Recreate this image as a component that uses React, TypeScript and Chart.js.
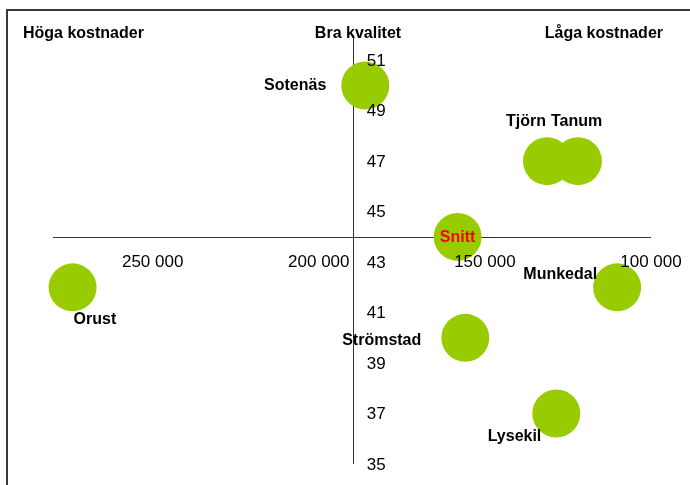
import React, { useEffect, useRef } from "react";
import { Chart, registerables } from "chart.js";

Chart.register(...registerables);

// ---- Data ----
const names = ["Sotenäs", "Tjörn", "Tanum", "Snitt", "Orust", "Munkedal", "Strömstad", "Lysekil"];
const costs = [186000, 131300, 122000, 158200, 274100, 110200, 155900, 128500];
const quality = [50, 47, 47, 44, 42, 42, 40, 37];
const xTicks = [250000, 200000, 150000, 100000];
const yTicks = [35, 37, 39, 41, 43, 45, 47, 49, 51];
const xRange = [100000, 280000];
const yRange = [35, 52];
const crossX = 189600;
const crossY = 44;
const headerLabels = ["Höga kostnader", "Bra kvalitet", "Låga kostnader"];

// ---- Styles ----
const FONT = "'Liberation Sans', Arial, sans-serif";
const GREEN = "#99CC00";
const labelPlacement: Record<string, { dx: number; dy: number; align: CanvasTextAlign; color?: string }> = {
  "Sotenäs": { dx: -39, dy: 0, align: "right" },
  "Tjörn": { dx: -1, dy: -40, align: "right" },
  "Tanum": { dx: -27, dy: -40, align: "left" },
  "Snitt": { dx: 0, dy: 1, align: "center", color: "#FF0000" },
  "Orust": { dx: 1, dy: 32, align: "left" },
  "Munkedal": { dx: -20, dy: -13, align: "right" },
  "Strömstad": { dx: -44, dy: 3, align: "right" },
  "Lysekil": { dx: -15, dy: 23, align: "right" },
};

const fmt = (v: number) => String(v).replace(/\B(?=(\d{3})+(?!\d))/g, " ");

const overlay = {
  id: "overlay",
  beforeDatasetsDraw(chart: any) {
    const { ctx, chartArea } = chart;
    const x = chart.scales.x;
    const y = chart.scales.y;
    const px = Math.round(x.getPixelForValue(crossX)) + 0.5;
    const py = Math.round(y.getPixelForValue(crossY)) + 0.5;
    ctx.save();
    ctx.strokeStyle = "#333333";
    ctx.lineWidth = 1;
    ctx.beginPath();
    ctx.moveTo(px, chartArea.top);
    ctx.lineTo(px, chartArea.bottom);
    ctx.moveTo(chartArea.left, py);
    ctx.lineTo(chartArea.right, py);
    ctx.stroke();
    ctx.restore();
  },
  afterDatasetsDraw(chart: any) {
    const { ctx } = chart;
    const x = chart.scales.x;
    const y = chart.scales.y;
    const px = x.getPixelForValue(crossX);
    const py = y.getPixelForValue(crossY);
    ctx.save();
    // tick labels
    ctx.fillStyle = "#000";
    ctx.font = `17px ${FONT}`;
    ctx.textBaseline = "middle";
    ctx.textAlign = "left";
    yTicks.forEach((v) => {
      ctx.fillText(String(v), px + 13.5, y.getPixelForValue(v) + 1);
    });
    ctx.textAlign = "center";
    xTicks.forEach((v) => {
      ctx.fillText(fmt(v), x.getPixelForValue(v), py + 25);
    });
    // point labels
    ctx.font = `bold 16px ${FONT}`;
    names.forEach((n, i) => {
      const p = labelPlacement[n];
      const cx = x.getPixelForValue(costs[i]);
      const cy = y.getPixelForValue(quality[i]);
      ctx.fillStyle = p.color || "#000";
      ctx.textAlign = p.align;
      ctx.fillText(n, cx + p.dx, cy + p.dy);
    });
    // header labels
    ctx.fillStyle = "#000";
    ctx.textBaseline = "alphabetic";
    ctx.textAlign = "left";
    ctx.fillText(headerLabels[0], 23, 38);
    ctx.textAlign = "center";
    ctx.fillText(headerLabels[1], 358, 38);
    ctx.textAlign = "right";
    ctx.fillText(headerLabels[2], 663, 38);
    ctx.restore();
  },
};

export default function App() {
  const ref = useRef<HTMLCanvasElement>(null);
  useEffect(() => {
    if (!ref.current) return;
    const chart = new Chart(ref.current, {
      type: "scatter",
      data: {
        datasets: [
          {
            data: names.map((_, i) => ({ x: costs[i], y: quality[i] })),
            pointRadius: 24,
            pointHoverRadius: 24,
            backgroundColor: GREEN,
            borderWidth: 0,
            clip: false as any,
          },
        ],
      },
      options: {
        animation: false,
        responsive: false,
        events: [],
        layout: { padding: { left: 53, right: 39, top: 35, bottom: 21 }, autoPadding: false } as any,
        scales: {
          x: { type: "linear", reverse: true, min: xRange[0], max: xRange[1], display: false },
          y: { type: "linear", min: yRange[0], max: yRange[1], display: false },
        },
        plugins: { legend: { display: false }, tooltip: { enabled: false } },
      },
      plugins: [overlay],
    });
    return () => chart.destroy();
  }, []);
  return (
    <div style={{ position: "absolute", left: 0, top: 0, width: 690, height: 485, overflow: "hidden", background: "#fff" }}>
      <div style={{ position: "absolute", left: 6, top: 9, width: 1000, height: 1000, border: "2px solid #3a3a3a" }} />
      <canvas ref={ref} width={690} height={485} style={{ position: "absolute", left: 0, top: 0, width: 690, height: 485 }} />
    </div>
  );
}
